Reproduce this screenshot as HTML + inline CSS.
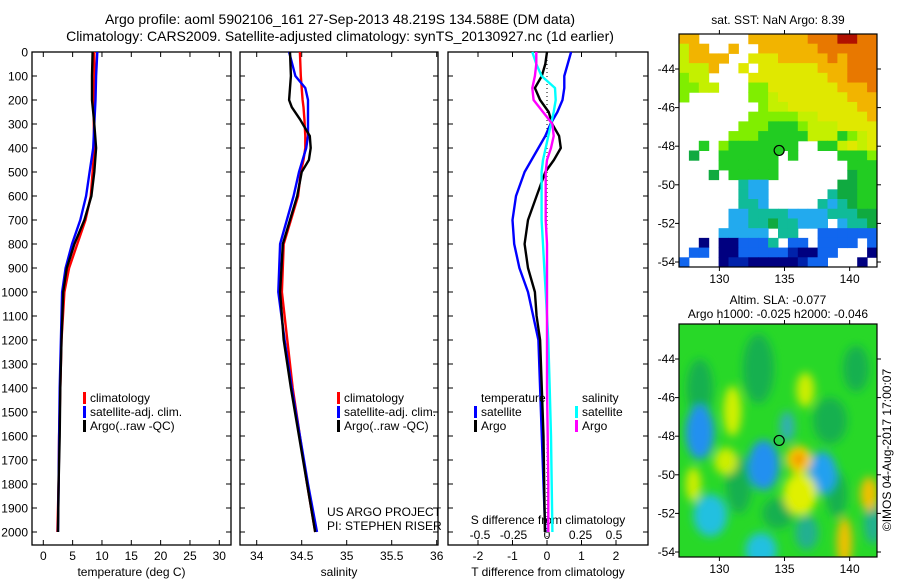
<!DOCTYPE html>
<html><head><meta charset="utf-8"><style>
html,body{margin:0;padding:0;background:#fff;}
svg{display:block;font-family:"Liberation Sans",sans-serif;}
</style></head><body>
<svg id="c" width="900" height="580" viewBox="0 0 900 580">
<defs>
<clipPath id="clipB"><rect x="679" y="324" width="198" height="233"/></clipPath>
<filter id="blur" x="-50%" y="-50%" width="200%" height="200%"><feGaussianBlur stdDeviation="4.5"/></filter>
</defs>
<text x="340" y="24" font-size="14" text-anchor="middle">Argo profile: aoml 5902106_161 27-Sep-2013 48.219S 134.588E (DM data)</text>
<text x="340" y="41" font-size="14" text-anchor="middle">Climatology: CARS2009. Satellite-adjusted climatology: synTS_20130927.nc (1d earlier)</text>
<g id="g"></g>
</svg>
<script>
// ---------- data ----------
const depths = [0,100,200,250,300,400,500,600,700,800,900,1000,1200,1400,1600,1800,2000];
const tempClim = [8.7,8.7,8.6,8.6,8.6,8.7,8.4,8.1,7.2,5.8,4.4,3.6,3.1,2.9,2.7,2.6,2.4];
const tempSat  = [9.2,9.0,8.9,8.8,8.7,8.5,7.9,7.3,6.3,4.9,3.8,3.2,3.0,2.8,2.7,2.6,2.5];
const tempArgo = [8.4,8.3,8.3,8.5,8.7,9.0,8.7,8.2,7.0,5.3,4.0,3.4,3.1,2.9,2.8,2.6,2.5];
const salDepths = [0,100,150,200,230,280,350,400,450,500,600,800,1000,1200,1400,1600,1800,2000];
const salClim = [34.48,34.49,34.50,34.51,34.52,34.53,34.54,34.54,34.52,34.49,34.46,34.30,34.28,34.34,34.40,34.48,34.56,34.65];
const salSat  = [34.36,34.43,34.54,34.57,34.57,34.57,34.57,34.55,34.51,34.47,34.41,34.26,34.24,34.31,34.39,34.48,34.57,34.67];
const salArgo = [34.37,34.38,34.37,34.36,34.39,34.48,34.59,34.60,34.58,34.50,34.45,34.29,34.26,34.30,34.38,34.47,34.56,34.65];
const diffDepths = [0,50,100,150,200,250,300,350,400,450,500,600,700,800,900,1000,1100,1200,1400,1600,1800,2000];
const tDiffSat  = [0.7,0.6,0.5,0.5,0.45,0.3,0.1,-0.05,-0.25,-0.45,-0.65,-0.9,-1.0,-0.95,-0.8,-0.55,-0.4,-0.25,-0.2,-0.15,-0.1,-0.05];
const tDiffArgo = [0.0,-0.05,-0.15,-0.35,-0.2,0.05,0.15,0.35,0.4,0.2,-0.05,-0.3,-0.55,-0.65,-0.55,-0.35,-0.3,-0.2,-0.15,-0.1,-0.08,-0.06];
const sDiffSat  = [-0.11,-0.08,-0.04,0.06,0.065,0.05,0.03,0.01,-0.01,-0.03,-0.04,-0.04,-0.04,-0.03,-0.02,-0.01,0.0,0.01,0.02,0.03,0.035,0.04];
const sDiffArgo = [-0.08,-0.08,-0.09,-0.11,-0.1,-0.03,0.04,0.05,0.03,0.0,-0.01,-0.01,-0.01,0.0,0.0,0.0,0.0,0.0,0.0,0.005,0.01,0.01];
const depthTicks = [0,100,200,300,400,500,600,700,800,900,1000,1100,1200,1300,1400,1500,1600,1700,1800,1900,2000];
const tempTicks = [0,5,10,15,20,25,30];
const salTicks = [34,34.5,35,35.5,36];
const tDiffTicks = [-2,-1,0,1,2];
const sDiffTicks = [-0.5,-0.25,0,0.25,0.5];
const sDiffTickLabels = ["-0.5","-0.25","0","0.25","0.5"];
const lonTicks = [130,135,140];
const latTicks = [-44,-46,-48,-50,-52,-54];
const argoLon = 134.588, argoLat = -48.219;
const sstGrid = [
"oo.....ooooooOOORROO",
"yoo..o..ooooooOOOOOO",
"yoooo..YYYoooooOoOOO",
"yyyo..Y.YYYYYYoooOOO",
"Lyy....YYYYYYYYooOOO",
"LLyy...LLYYYYYYYoooO",
"L......LLyYYYYYYYooo",
"........LyyYYYYYYYoo",
".......LLLLLyyYYYYYo",
"......LLLGGGLyyyYYYY",
".....LLLGGGGGyyyGLyY",
"..G.LGGGGGGG..GGyYyY",
".g..GGGGGG.G....GGGL",
"....GGGGGG.......GGG",
"...g.GGGGG.......gGG",
"......TCC.......ggGG",
"......TCC......TggGG",
"......TTC.....TCTgGG",
".....CCTTTTCCCCTTTgg",
".....CCTTgTTCCC.CTTg",
"....CCCCC.TT..BBBBBB",
"..N.NNBBBT.BB.BBBB.B",
".BB.NNBBBBBbNNBB...N",
"B...NbbNNNNNbBB...N."];
const slaBlobs = [
 [133,-44.5,1.2,1.8,"#18b050"],[138.5,-47.2,1.3,1.2,"#18b050"],[128.5,-45.5,1.0,1.5,"#18b050"],[140.5,-44.5,1,1.2,"#18b050"],
 [131.5,-50.5,1.0,1.5,"#18b050"],[134.5,-52,1.2,0.8,"#18b050"],[139,-51,0.8,1.2,"#18b050"],
 [128.5,-47.8,1.1,1.4,"#2090f0"],[133.4,-49.5,1.2,1.3,"#2090f0"],[137.9,-49.9,1.1,1.1,"#20a0f0"],
 [129.3,-52.1,1.3,1.1,"#20c0e0"],[133.2,-53.9,1.2,0.9,"#20c0e0"],[135.2,-47.5,0.6,0.8,"#30b0b0"],
 [136.7,-53.0,0.9,0.9,"#20b090"],[141.8,-52.5,0.7,1.1,"#20b090"],
 [131.0,-46.7,0.7,1.3,"#d0f000"],[136.2,-51.0,1.3,1.1,"#e0f000"],[136.1,-49.2,1.0,0.7,"#ffd000"],
 [136.1,-49.2,0.5,0.35,"#f09000"],[139.6,-53.5,0.6,1.3,"#f0c000"],[141.5,-51,0.7,0.9,"#f0c000"],
 [136.6,-45.6,0.7,0.9,"#ccee00"],[130.5,-49.3,0.9,0.7,"#ccee00"],[128,-50.5,0.6,0.9,"#ccee00"]];
// ---------- helpers ----------
const NS="http://www.w3.org/2000/svg";
const G=document.getElementById('g');
function mk(tag,attrs,parent){const e=document.createElementNS(NS,tag);for(const k in attrs)e.setAttribute(k,attrs[k]);(parent||G).appendChild(e);return e;}
const yD = d => 52 + d*0.24;
const TOP=52, BOT=545;
function xLin(v0,p0,v1,p1){return v=>p0+(v-v0)*(p1-p0)/(v1-v0);}
const xT = xLin(0,43.3,30,219.3);
const xS = xLin(34,256.7,36,436.7);
const xTd = xLin(0,547,1,581.5);
const xSd = xLin(0,547,0.5,614);
const panels=[[32,231],[240,438],[448,648]];
panels.forEach((p,i)=>{
  const r=mk('rect',{x:p[0],y:TOP,width:p[1]-p[0],height:BOT-TOP,fill:'none',stroke:'#000','stroke-width':1.3});
  
  
  depthTicks.forEach(d=>{
    const t1=mk('line',{x1:p[0],x2:p[0]+5,y1:yD(d),y2:yD(d),stroke:'#000'});
    
    
    const t2=mk('line',{x1:p[1],x2:p[1]-5,y1:yD(d),y2:yD(d),stroke:'#000'});
    
    
  });
});
depthTicks.forEach(d=>{
  const t=mk('text',{x:28,y:yD(d)+4.5,'font-size':12,'text-anchor':'end'});
  t.textContent=d;
  
  
});
function xticks(ticks,labels,fx,yl,top){
  ticks.forEach((v,i)=>{
    const x=fx(v);
    const a=mk('line',{x1:x,x2:x,y1:BOT,y2:BOT-5,stroke:'#000'});
    
    
    if(top){const b=mk('line',{x1:x,x2:x,y1:TOP,y2:TOP+5,stroke:'#000'});
      
      }
    const t=mk('text',{x:x,y:yl,'font-size':12,'text-anchor':'middle'});
    t.textContent=labels?labels[i]:v;
    
    
  });
}
xticks(tempTicks,null,xT,560,true);
xticks(salTicks,null,xS,560,true);
xticks(tDiffTicks,null,xTd,560,true);
sDiffTicks.forEach((v,i)=>{
  const t=mk('text',{x:xSd(v),y:539,'font-size':12,'text-anchor':'middle'});
  t.textContent=sDiffTickLabels[i];
  
  
});
[[131.5,576,'temperature (deg C)','x-axis-title-temperature'],[339,576,'salinity','x-axis-title-salinity'],
 [548,576,'T difference from climatology','x-axis-title-t-diff'],[548,524,'S difference from climatology','s-diff-axis-title']].forEach(a=>{
  const t=mk('text',{x:a[0],y:a[1],'font-size':12,'text-anchor':'middle'});
  t.textContent=a[2];
  
  
});
const zl=mk('line',{x1:xTd(0),x2:xTd(0),y1:TOP,y2:BOT,stroke:'#000','stroke-dasharray':'1,3'});


function series(ds,vals,fx,color,name){
  const pts=ds.map((d,i)=>fx(vals[i]).toFixed(1)+','+yD(d).toFixed(1)).join(' ');
  const p=mk('polyline',{points:pts,fill:'none',stroke:color,'stroke-width':2.4,'stroke-linejoin':'round'});
  
  
}
series(depths,tempClim,xT,'#f00','temp-climatology-line');
series(depths,tempSat,xT,'#00f','temp-satellite-line');
series(depths,tempArgo,xT,'#000','temp-argo-line');
series(salDepths,salClim,xS,'#f00','sal-climatology-line');
series(salDepths,salSat,xS,'#00f','sal-satellite-line');
series(salDepths,salArgo,xS,'#000','sal-argo-line');
series(diffDepths,tDiffSat,xTd,'#00f','t-diff-satellite-line');
series(diffDepths,tDiffArgo,xTd,'#000','t-diff-argo-line');
series(diffDepths,sDiffSat,xSd,'#0ff','s-diff-satellite-line');
series(diffDepths,sDiffArgo,xSd,'#f0f','s-diff-argo-line');
function legItem(x,y,color,label,name){
  if(color){const m=mk('rect',{x:x-7,y:y-10,width:3,height:12,fill:color});
    
    }
  const t=mk('text',{x:x,y:y,'font-size':12});
  t.textContent=label;
  
  
}
[[90,0],[344,1]].forEach(([x,k])=>{
  legItem(x,402,'#f00','climatology','legend-climatology-'+k);
  legItem(x,416,'#00f','satellite-adj. clim.','legend-satellite-'+k);
  legItem(x,430,'#000','Argo(..raw -QC)','legend-argo-'+k);
});
legItem(481,402,null,'temperature','legend-temperature-header');
legItem(481,416,'#00f','satellite','legend-t-satellite');
legItem(481,430,'#000','Argo','legend-t-argo');
legItem(582,402,null,'salinity','legend-salinity-header');
legItem(582,416,'#0ff','satellite','legend-s-satellite');
legItem(582,430,'#f0f','Argo','legend-s-argo');
legItem(327,516,null,'US ARGO PROJECT','project-label');
legItem(327,530,null,'PI: STEPHEN RISER','pi-label');
// ---------- maps ----------
const MX0=679,MX1=877;
const xLon = xLin(126.9,MX0,142.1,MX1);
const latY = top => (lat => top + (-44-lat)*19.3);
const yTop = latY(69), yBot = latY(359);
const colors={R:'#b01000',O:'#e87800',o:'#f2b400',Y:'#e0e800',y:'#c4f000',L:'#80ee00',G:'#22cc22',g:'#10aa40',T:'#10bb99',C:'#22aaee',B:'#1166ee',b:'#0022aa',N:'#000080'};
const cw=(MX1-MX0)/20, ch=(267-34)/24;
sstGrid.forEach((row,r)=>{[...row].forEach((c,k)=>{
  if(c==='.')return;
  const e=mk('rect',{x:MX0+k*cw,y:34+r*ch,width:cw+0.5,height:ch+0.5,fill:colors[c]});
  
  
});});
const bg=mk('g',{'clip-path':'url(#clipB)'});


mk('rect',{x:MX0,y:324,width:198,height:233,fill:'#28d828'},bg);
const bl=mk('g',{filter:'url(#blur)'},bg);
slaBlobs.forEach(b=>{
  const e=mk('ellipse',{cx:xLon(b[0]),cy:yBot(b[1]),rx:b[2]*13,ry:b[3]*19.3,fill:b[4]},bl);
  
  
});
[[34,267,yTop,'sst'],[324,557,yBot,'sla']].forEach(([t,b,fy,n])=>{
  const fr=mk('rect',{x:MX0,y:t,width:MX1-MX0,height:b-t,fill:'none',stroke:'#000','stroke-width':1.2});
  
  
  lonTicks.forEach(l=>{
    const x=xLon(l);
    mk('line',{x1:x,x2:x,y1:b,y2:b+4,stroke:'#000'});
    mk('line',{x1:x,x2:x,y1:t,y2:t-4,stroke:'#000'});
    const tx=mk('text',{x:x,y:b+16,'font-size':12,'text-anchor':'middle'});
    tx.textContent=l;
    
    
  });
  latTicks.forEach(l=>{
    const y=fy(l);
    mk('line',{x1:MX0,x2:MX0-4,y1:y,y2:y,stroke:'#000'});
    mk('line',{x1:MX1,x2:MX1+4,y1:y,y2:y,stroke:'#000'});
    const tx=mk('text',{x:675,y:y+4,'font-size':12,'text-anchor':'end'});
    tx.textContent=l;
    
    
  });
  const c=mk('circle',{cx:xLon(argoLon),cy:fy(argoLat),r:5,fill:n==='sst'?'#22cc22':'none',stroke:'#000','stroke-width':1.2});
  
  
});
[[778,24,'sat. SST: NaN Argo: 8.39','sst-map-title'],[778,304,'Altim. SLA: -0.077','sla-map-title'],[778,318,'Argo h1000: -0.025 h2000: -0.046','argo-height-title']].forEach(a=>{
  const t=mk('text',{x:a[0],y:a[1],'font-size':12,'text-anchor':'middle'});
  t.textContent=a[2];
  
  
});
const cp=mk('text',{x:0,y:0,'font-size':12,'text-anchor':'middle',transform:'translate(891,450) rotate(-90)'});
cp.textContent='©IMOS 04-Aug-2017 17:00:07';


</script>
</body></html>
